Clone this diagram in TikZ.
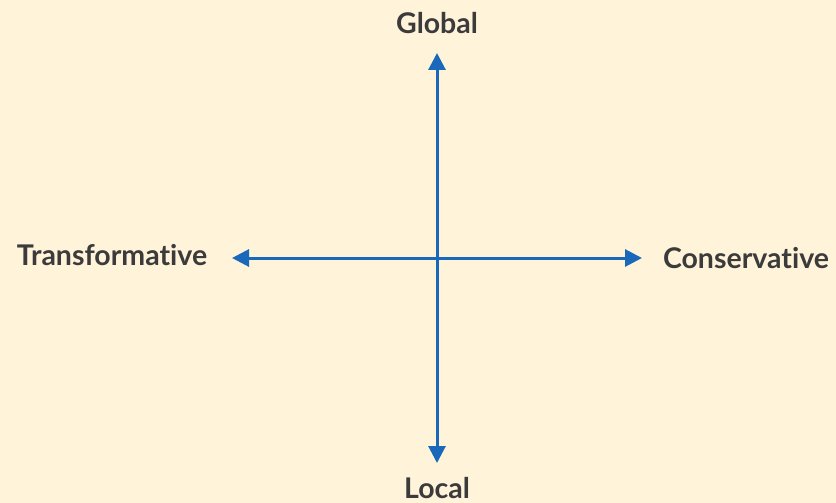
\documentclass[tikz,border=0pt]{standalone}
\usepackage{fontspec}
\setmainfont{Lato}[Ligatures=NoCommon]
\usetikzlibrary{arrows.meta}
\definecolor{bg}{HTML}{FFF3DA}
\definecolor{axis}{HTML}{1A68BA}
\definecolor{txt}{HTML}{3B3B3B}
\tikzset{
  axisline/.style={draw=axis, line width=3pt, {Triangle[length=17pt,width=17pt]}-{Triangle[length=17pt,width=17pt]}},
  lbl/.style={text=txt, font=\bfseries\fontsize{28.5}{32}\selectfont, inner sep=0pt}
}
\begin{document}
\begin{tikzpicture}[x=1pt,y=-1pt]
\fill[bg] (0,0) rectangle (836,503);
\useasboundingbox (0,0) rectangle (836,503);
\coordinate (top) at (437,53);
\coordinate (bot) at (437,463);
\coordinate (left) at (232,258);
\coordinate (right) at (642,258);
\draw[axisline] (top) -- (bot);
\draw[axisline] (left) -- (right);
\node[lbl] (global) at (437,23) {Global};
\node[lbl] (local) at (437,488) {Local};
\node[lbl] (trans) at (112,255) {Transformat\kern0pt ive};
\node[lbl] (cons) at (746,258) {Conservative};
\end{tikzpicture}
\end{document}
